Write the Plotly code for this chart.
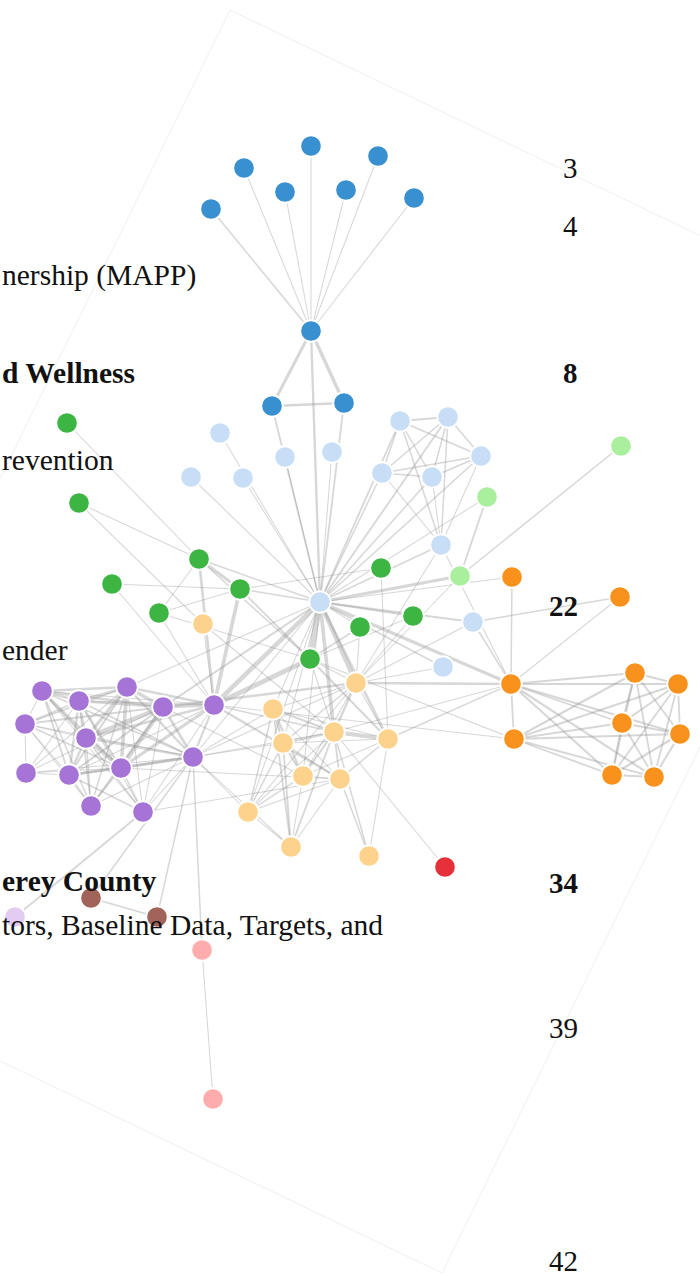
import plotly.graph_objects as go

# ---- data: Les Misérables co-occurrence network (positions) ----
node_names = ["Myriel","Napoleon","Mlle.Baptistine","Mme.Magloire","CountessdeLo","Geborand",
    "Champtercier","Cravatte","Count","OldMan","Labarre","Valjean","Marguerite","Mme.deR",
    "Isabeau","Gervais","Tholomyes","Listolier","Fameuil","Blacheville","Favourite","Dahlia",
    "Zephine","Fantine","Mme.Thenardier","Thenardier","Cosette","Javert","Fauchelevent",
    "Bamatabois","Perpetue","Simplice","Scaufflaire","Woman1","Judge","Champmathieu","Brevet",
    "Chenildieu","Cochepaille","Pontmercy","Boulatruelle","Eponine","Anzelma","Woman2",
    "MotherInnocent","Gribier","Jondrette","Mme.Burgon","Gavroche","Gillenormand","Magnon",
    "Mlle.Gillenormand","Mme.Pontmercy","Mlle.Vaubois","Lt.Gillenormand","Marius","BaronessT",
    "Mabeuf","Enjolras","Combeferre","Prouvaire","Feuilly","Courfeyrac","Bahorel","Bossuet",
    "Joly","Grantaire","MotherPlutarch","Gueulemer","Babet","Claquesous","Montparnasse",
    "Toussaint","Child1","Child2","Brujon","Mme.Hucheloup"]
node_group = [1,1,1,1,1,1,1,1,1,1,2,2,3,2,2,2,3,3,3,3,3,3,3,3,4,4,5,4,0,2,3,2,2,2,2,2,2,2,2,
    4,6,4,4,5,0,0,7,7,8,5,5,5,5,5,5,8,5,8,8,8,8,8,8,8,8,8,8,9,4,4,4,4,5,10,10,4,8]
node_x = [311,311,272,344,244,378,285,346,211,414,220,320,512,191,243,285,514,635,678,622,680,612,
    654,511,388,334,310,356,460,441,620,473,332,443,400,448,382,432,481,203,445,340,369,413,487,
    621,213,202,193,240,381,199,79,67,159,214,112,143,163,86,91,42,121,69,127,79,25,15,273,283,
    303,248,360,91,157,291,26]
node_y = [331,146,406,403,168,156,192,190,209,198,433,602,577,477,478,457,739,673,684,723,734,775,
    777,684,739,732,659,683,576,545,597,622,452,667,421,417,473,477,456,624,867,779,856,616,497,
    446,1099,950,757,589,568,559,503,423,613,705,584,812,707,738,806,691,768,775,687,701,724,917,
    709,743,776,812,627,898,917,847,773]

link_source = [1,2,3,3,4,5,6,7,8,9,11,11,11,11,12,13,14,15,17,18,18,19,19,19,20,20,20,20,21,21,
    21,21,21,22,22,22,22,22,22,23,23,23,23,23,23,23,23,23,24,24,25,25,25,26,26,26,26,27,27,27,27,
    27,28,28,29,29,29,30,31,31,31,31,32,33,33,34,34,35,35,35,36,36,36,36,37,37,37,37,37,38,38,38,
    38,38,38,39,40,41,41,42,42,42,43,43,43,44,44,45,47,48,48,48,48,49,49,50,50,51,51,51,52,52,53,
    54,54,54,55,55,55,55,55,55,55,55,55,55,56,56,57,57,57,58,58,58,58,58,59,59,59,59,60,60,60,61,
    61,61,61,61,61,62,62,62,62,62,62,62,62,63,63,63,63,63,63,63,63,64,64,64,64,64,64,64,64,64,64,
    65,65,65,65,65,65,65,65,65,65,66,66,66,66,66,66,66,66,66,67,68,68,68,68,68,68,69,69,69,69,69,
    69,69,70,70,70,70,70,70,70,70,71,71,71,71,71,71,71,71,72,72,72,73,74,74,75,75,75,75,75,75,75,
    76,76,76,76,76,76,76]
link_target = [0,0,0,2,0,0,0,0,0,0,10,3,2,0,11,11,11,11,16,16,17,16,17,18,16,17,18,19,16,17,18,
    19,20,16,17,18,19,20,21,16,17,18,19,20,21,22,12,11,23,11,24,23,11,24,11,16,25,11,23,25,24,26,
    11,27,23,27,11,23,30,11,23,27,11,11,27,11,29,11,34,29,34,35,11,29,34,35,36,11,29,34,35,36,37,
    11,29,25,25,24,25,41,25,24,11,26,27,28,11,28,46,47,25,27,11,26,11,49,24,49,26,11,51,39,51,51,
    49,26,51,49,39,54,26,11,16,25,41,48,49,55,55,41,48,55,48,27,57,11,58,55,48,57,48,58,59,48,58,
    60,59,57,55,55,58,59,48,57,41,61,60,59,48,62,57,58,61,60,55,55,62,48,63,58,61,60,59,57,11,63,
    64,48,62,58,61,60,59,57,55,64,58,59,62,65,48,63,61,60,57,25,11,24,27,48,41,25,68,11,24,27,48,
    41,25,69,68,11,24,27,41,58,27,69,68,70,11,48,41,25,26,27,11,48,48,73,69,68,25,48,41,70,71,64,
    65,66,63,62,48,58]
link_value = [1,8,10,6,1,1,1,1,2,1,1,3,3,5,1,1,1,1,4,4,4,4,4,4,3,3,3,4,3,3,3,3,5,3,3,3,3,4,4,3,3,
    3,3,4,4,4,2,9,2,7,13,1,12,4,31,1,1,17,5,5,1,1,8,1,1,1,2,1,2,3,2,1,1,2,1,3,2,3,3,2,2,2,2,1,2,2,
    2,2,1,2,2,2,2,2,1,1,1,2,3,2,2,1,3,1,1,3,1,2,1,2,1,1,1,3,2,1,1,9,2,2,1,1,1,1,1,1,6,12,1,1,21,
    19,1,2,5,4,1,1,1,1,1,7,7,6,1,4,15,5,6,2,1,4,2,2,6,2,5,1,1,9,17,13,7,2,1,6,3,5,5,6,2,4,3,2,1,5,
    12,5,4,10,6,2,9,1,1,5,7,3,5,5,5,2,5,1,2,3,3,1,2,2,1,1,1,1,3,5,1,1,1,1,1,6,6,1,1,2,1,1,4,4,4,1,
    1,1,1,1,1,2,2,2,1,1,1,1,2,1,1,2,2,3,3,3,3,1,1,1,1,1,1,1,1,1,1,1]

group_colors = {0: "#a9ef9d", 1: "#3890d0", 2: "#c8def7", 3: "#f8921c", 4: "#fdd28c",
                5: "#3db542", 6: "#e6313a", 7: "#ffacac", 8: "#a674d6", 9: "#e2ccf2",
                10: "#a0645a"}

# ---- page text fragments (background document) ----
left_texts = ["nership (MAPP)", "<b>d Wellness</b>", "revention", "ender",
              "<b>erey County</b>", "tors, Baseline Data, Targets, and"]
left_baselines = [287, 385, 472, 662, 893, 937]
page_numbers = ["3", "4", "<b>8</b>", "<b>22</b>", "<b>34</b>", "39", "42"]
page_baselines = [180, 238, 385, 618, 895, 1040, 1273]

fig = go.Figure()

# faint rotated page outline
fig.add_shape(type="path", path="M 230 10 L 903 333 L 442 1273 L -231 950 Z",
              line=dict(color="rgba(0,0,0,0.05)", width=1.2), layer="below")

for s, t, v in zip(link_source, link_target, link_value):
    fig.add_trace(go.Scatter(
        x=[node_x[s], node_x[t]], y=[node_y[s], node_y[t]], mode="lines",
        line=dict(color="rgba(150,150,150,0.38)", width=v ** 0.5 * 1.05),
        hoverinfo="skip", showlegend=False))

fig.add_trace(go.Scatter(
    x=node_x, y=node_y, mode="markers", text=node_names, hoverinfo="text",
    marker=dict(size=21.5, color=[group_colors[g] for g in node_group],
                line=dict(color="white", width=1.8)),
    showlegend=False))

for txt, b in zip(left_texts, left_baselines):
    fig.add_annotation(x=0, y=b - 12, text=txt, showarrow=False, xanchor="left",
                       yanchor="middle", xref="x", yref="y",
                       font=dict(family="Liberation Serif", size=29.5, color="#111"))
for txt, b in zip(page_numbers, page_baselines):
    fig.add_annotation(x=580, y=b - 12, text=txt, showarrow=False, xanchor="right",
                       yanchor="middle", xref="x", yref="y",
                       font=dict(family="Liberation Serif", size=29, color="#111"))

fig.update_layout(
    width=700, height=1276, margin=dict(l=0, r=0, t=0, b=0),
    paper_bgcolor="white", plot_bgcolor="white",
    xaxis=dict(range=[0, 700], visible=False, fixedrange=True),
    yaxis=dict(range=[1276, 0], visible=False, fixedrange=True),
)

fig.write_html("out.html", config={"displayModeBar": False},
               post_script="document.body.style.margin='0';document.body.style.overflow='hidden';")
